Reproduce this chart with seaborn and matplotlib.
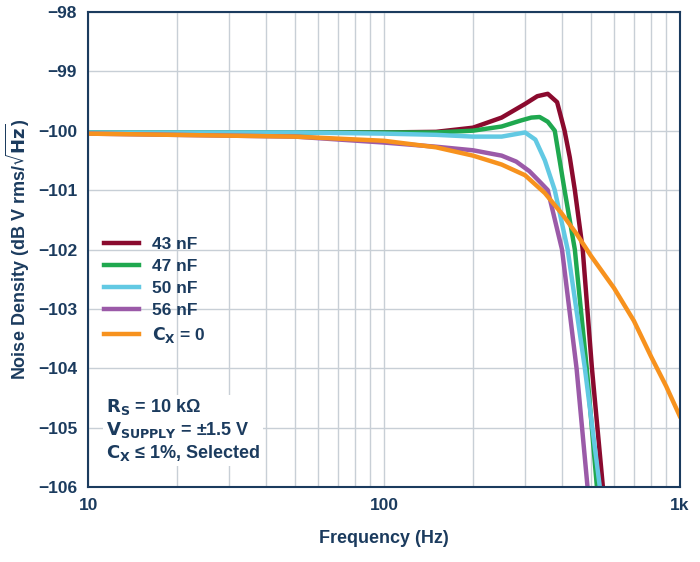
import numpy as np
import pandas as pd
import matplotlib.pyplot as plt
import seaborn as sns

# values
f_43 = [10, 50, 100, 150, 200, 250, 300, 330, 358, 385, 408, 425, 442, 470, 505, 550]
n_43 = [-100.03, -100.03, -100.03, -100.02, -99.95, -99.78, -99.55, -99.42, -99.38, -99.52, -100.0, -100.45, -101.0, -102.0, -104.0, -106.0]

f_47 = [10, 50, 100, 150, 200, 250, 290, 315, 336, 358, 378, 408, 442, 485, 525]
n_47 = [-100.03, -100.03, -100.03, -100.03, -100.0, -99.93, -99.83, -99.78, -99.77, -99.85, -100.0, -101.0, -102.0, -104.0, -106.0]

f_50 = [10, 50, 100, 150, 200, 250, 285, 300, 325, 350, 378, 418, 478, 537]
n_50 = [-100.03, -100.03, -100.05, -100.07, -100.1, -100.1, -100.05, -100.03, -100.15, -100.5, -101.0, -102.0, -104.0, -106.0]

f_56 = [10, 50, 100, 150, 200, 250, 280, 310, 335, 358, 400, 448, 488]
n_56 = [-100.05, -100.1, -100.2, -100.27, -100.33, -100.42, -100.52, -100.68, -100.85, -101.0, -102.0, -104.0, -106.0]

f_c0 = [10, 50, 100, 150, 200, 250, 300, 350, 400, 450, 500, 600, 700, 800, 900, 1000]
n_c0 = [-100.05, -100.1, -100.17, -100.28, -100.42, -100.57, -100.75, -101.05, -101.4, -101.75, -102.1, -102.65, -103.2, -103.8, -104.3, -104.8]

labels = ["43 nF", "47 nF", "50 nF", "56 nF", "$\\mathbf{C_X}$ = 0"]
colors = ["#8a0a2e", "#1fa84f", "#62c9e3", "#9b5aa8", "#f7921e"]
series = [(f_43, n_43), (f_47, n_47), (f_50, n_50), (f_56, n_56), (f_c0, n_c0)]

navy = "#1b3b5e"
plt.rcParams["font.family"] = "Liberation Sans"
plt.rcParams["font.weight"] = "bold"

fig = plt.figure(figsize=(7, 5.62), dpi=100)
ax = fig.add_axes([0.126, 0.133, 0.845, 0.846])

for (f, n), lab, c in zip(series, labels, colors):
    df = pd.DataFrame({"f": f, "n": n})
    sns.lineplot(data=df, x="f", y="n", ax=ax, color=c, lw=3.2, label=lab, sort=False)

ax.set_xscale("log")
ax.set_xlim(10, 1000)
ax.set_ylim(-106, -98)
ax.set_yticks(np.arange(-106, -97, 1))
ax.set_yticklabels([f"\u2212{abs(v)}" for v in range(-106, -97)])
ax.set_xticks([10, 100, 1000])
ax.set_xticklabels(["10", "100", "1k"])
ax.grid(True, which="both", color="#c8cfd6", lw=1)
ax.tick_params(which="both", length=0, labelsize=12.5, colors=navy, pad=8)
for s in ax.spines.values():
    s.set_color(navy)
    s.set_linewidth(1.5)
ax.set_xlabel("Frequency (Hz)", fontsize=13, color=navy, fontweight="bold", labelpad=12)
ax.set_ylabel("Noise Density (dB V rms/$\\mathbf{\\sqrt{Hz}}$)", fontsize=13, color=navy,
              fontweight="bold")

leg = ax.legend(loc="upper left", bbox_to_anchor=(0.0, 0.56), frameon=False, fontsize=12.5,
                handlelength=2.0, labelspacing=0.4)
for t in leg.get_texts():
    t.set_color(navy)

ax.text(0.03, 0.05, "$\\mathbf{R_S}$ = 10 kΩ\n$\\mathbf{V_{SUPPLY}}$ = ±1.5 V\n$\\mathbf{C_X}$ ≤ 1%, Selected",
        transform=ax.transAxes, fontsize=13, color=navy, fontweight="bold",
        linespacing=1.2, va="bottom", bbox=dict(facecolor="white", edgecolor="none", pad=2))

fig.savefig("out.png", dpi=100)
